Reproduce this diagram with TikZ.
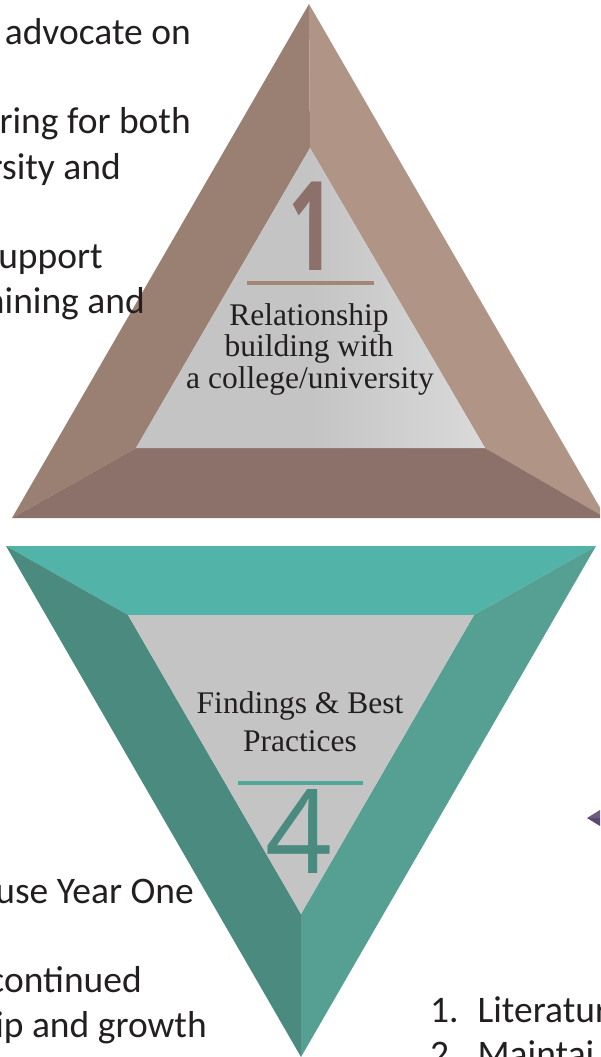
\documentclass[tikz,border=0pt]{standalone}
\usepackage{fontspec}
\setmainfont{Liberation Serif}
\newfontfamily\bodyfont{Carlito}
\newfontfamily\numfont{Open Sans}

\definecolor{brownL}{HTML}{9A8072}
\definecolor{brownR}{HTML}{B09486}
\definecolor{brownB}{HTML}{8B716A}
\definecolor{brownRule}{HTML}{A38676}
\definecolor{tealT}{HTML}{52B4A8}
\definecolor{tealL}{HTML}{4B8A7F}
\definecolor{tealR}{HTML}{55A092}
\definecolor{tealRule}{HTML}{52A898}
\definecolor{innerGray}{HTML}{C4C4C4}
\definecolor{innerLight}{HTML}{DADADA}
\definecolor{purpleL}{HTML}{6E5A80}
\definecolor{purpleD}{HTML}{5B4870}
\definecolor{inkText}{HTML}{231F20}

\tikzset{
  bodytext/.style={anchor=base east, inner sep=0pt, text=inkText, font=\bodyfont\fontsize{37.5}{44}\selectfont},
  listtext/.style={bodytext, anchor=base west},
  titletext/.style={anchor=base, inner sep=0pt, text=inkText, font=\fontsize{31.5}{32}\selectfont},
  bignum/.style={anchor=base, inner sep=0pt},
}

\begin{document}
\begin{tikzpicture}[x=1pt, y=-1pt]
\useasboundingbox (0,0) rectangle (600,1057);
\clip (0,0) rectangle (600,1057);

% top triangle (1)
\coordinate (tA) at (309,4);
\coordinate (tL) at (12,518);
\coordinate (tR) at (606,518);
\coordinate (iA) at (310,148);
\coordinate (iL) at (136,448);
\coordinate (iR) at (485,448);
\fill[brownL] (tA) -- (tL) -- (iL) -- (iA) -- cycle;
\fill[brownR] (tA) -- (tR) -- (iR) -- (iA) -- cycle;
\fill[brownB] (tL) -- (tR) -- (iR) -- (iL) -- cycle;
\shade[left color=innerGray, right color=innerLight, middle color=innerGray] (iA) -- (iL) -- (iR) -- cycle;

\node[bignum, text=brownB, xscale=0.65] (one) at (311,270) {\numfont\bfseries\fontsize{124}{124}\selectfont 1};
\draw[brownRule, line width=4pt] (247,283) coordinate (r1a) -- (374,283) coordinate (r1b);
\node[titletext] (rel1) at (309,325) {Relationship};
\node[titletext] (rel2) at (309,356) {building with};
\node[titletext] (rel3) at (310,388) {a college/university};

% bottom triangle (4)
\coordinate (bA) at (301,1057);
\coordinate (bL) at (6,546);
\coordinate (bR) at (596,546);
\coordinate (jA) at (301,914);
\coordinate (jL) at (128,615);
\coordinate (jR) at (474,615);
\fill[tealT] (bL) -- (bR) -- (jR) -- (jL) -- cycle;
\fill[tealL] (bL) -- (bA) -- (jA) -- (jL) -- cycle;
\fill[tealR] (bR) -- (bA) -- (jA) -- (jR) -- cycle;
\fill[innerGray] (jL) -- (jR) -- (jA) -- cycle;

\node[titletext] (find1) at (300,713) {Findings \& Best};
\node[titletext] (find2) at (300,751) {Practices};
\draw[tealRule, line width=4pt] (238,783) coordinate (r4a) -- (363,783) coordinate (r4b);
\node[bignum, text=tealL] (four) at (299,873) {\numfont\fontsize{117}{117}\selectfont 4};

% purple tip at the right edge
\coordinate (pT) at (587,818);
\fill[purpleL] (pT) -- (600,810) -- (600,818) -- cycle;
\fill[purpleD] (pT) -- (600,818) -- (600,826) -- cycle;

% text cut by the left edge
\node[bodytext] (adv) at (191,45) {advocate on};
\node[bodytext] (ring) at (191,133) {ring for both};
\node[bodytext] (rsity) at (121,179) {rsity and};
\node[bodytext] (supp) at (103,268) {upport};
\node[bodytext] (train) at (145,313) {nining and};
\node[bodytext] (year) at (194,903) {use Year One};
\node[bodytext] (cont) at (142,992) {continued};
\node[bodytext] (grow) at (207,1037) {ip and growth};

% list at the bottom right
\node[listtext] (lit) at (430,1022) {1.\hspace{19pt}Literatur};
\node[listtext] (main) at (430,1066) {2.\hspace{19pt}Maintai};
\end{tikzpicture}
\end{document}
